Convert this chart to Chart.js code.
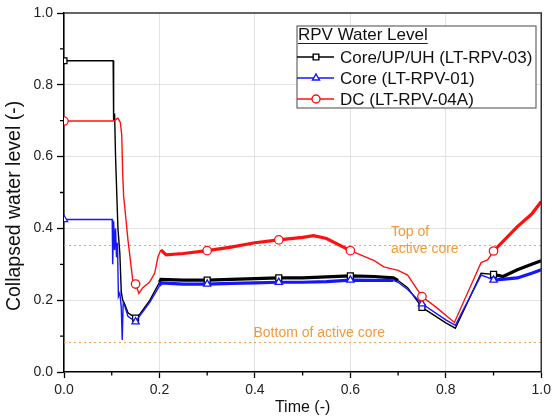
<!DOCTYPE html>
<html>
<head>
<meta charset="utf-8">
<script src="https://cdn.jsdelivr.net/npm/chart.js@4.4.1/dist/chart.umd.min.js"></script>
<style>
  html, body { margin: 0; padding: 0; background: #fff; }
</style>
</head>
<body>
<canvas id="chart" width="555" height="419"></canvas>
<script>
// Core/UP/UH (LT-RPV-03)
const coreUpX = [0, 0.103, 0.104, 0.106, 0.108, 0.113, 0.117, 0.12, 0.123, 0.127, 0.134, 0.15, 0.158, 0.18, 0.2, 0.203, 0.25, 0.3, 0.35, 0.4, 0.45, 0.5, 0.55, 0.6, 0.65, 0.69, 0.7, 0.72, 0.75, 0.8, 0.82, 0.874, 0.9, 0.92, 0.95, 0.98, 1.0];
const coreUpY = [0.867, 0.867, 0.70, 0.72, 0.60, 0.40, 0.33, 0.224, 0.20, 0.19, 0.165, 0.15, 0.16, 0.2, 0.25, 0.258, 0.256, 0.256, 0.258, 0.26, 0.262, 0.262, 0.265, 0.268, 0.266, 0.262, 0.255, 0.235, 0.18, 0.137, 0.122, 0.275, 0.272, 0.266, 0.285, 0.3, 0.31];

// Core (LT-RPV-01)
const coreX = [0, 0.101, 0.102, 0.104, 0.106, 0.108, 0.11, 0.112, 0.114, 0.117, 0.12, 0.122, 0.124, 0.127, 0.134, 0.15, 0.158, 0.18, 0.2, 0.203, 0.25, 0.3, 0.35, 0.4, 0.45, 0.5, 0.55, 0.6, 0.65, 0.69, 0.7, 0.72, 0.75, 0.8, 0.82, 0.874, 0.89, 0.9, 0.95, 0.98, 1.0];
const coreY = [0.425, 0.425, 0.30, 0.42, 0.34, 0.40, 0.32, 0.36, 0.21, 0.22, 0.18, 0.089, 0.19, 0.185, 0.155, 0.14, 0.155, 0.195, 0.24, 0.248, 0.245, 0.245, 0.247, 0.248, 0.25, 0.25, 0.252, 0.256, 0.255, 0.255, 0.25, 0.23, 0.19, 0.145, 0.13, 0.27, 0.262, 0.256, 0.262, 0.275, 0.285];

// DC (LT-RPV-04A)
const dcX = [0, 0.105, 0.11, 0.113, 0.118, 0.121, 0.123, 0.125, 0.128, 0.134, 0.144, 0.15, 0.157, 0.165, 0.179, 0.19, 0.197, 0.203, 0.214, 0.25, 0.3, 0.35, 0.4, 0.45, 0.5, 0.523, 0.55, 0.6, 0.65, 0.67, 0.7, 0.72, 0.75, 0.78, 0.818, 0.874, 0.8875, 0.9, 0.95, 0.98, 1.0];
const dcY = [0.699, 0.699, 0.705, 0.707, 0.695, 0.66, 0.55, 0.488, 0.45, 0.368, 0.256, 0.245, 0.219, 0.235, 0.25, 0.275, 0.321, 0.34, 0.326, 0.33, 0.338, 0.348, 0.36, 0.368, 0.375, 0.38, 0.372, 0.338, 0.31, 0.293, 0.283, 0.27, 0.21, 0.18, 0.138, 0.305, 0.312, 0.337, 0.405, 0.44, 0.475];

// where the measured signals are noisy (drawn as a thicker band)
const coreUpNoise = [[0.2, 0.7], [0.9, 1.0]];
const coreNoise = [[0.2, 0.69], [0.9, 1.0]];
const dcNoise = [[0.2, 0.6], [0.9, 1.0]];

const markerX = [0, 0.15, 0.3, 0.45, 0.6, 0.75, 0.9];
const tickValues = [0, 0.2, 0.4, 0.6, 0.8, 1.0];
const minorValues = [0.1, 0.3, 0.5, 0.7, 0.9];
const topOfCore = 0.355;
const bottomOfCore = 0.083;

const FONT = '"Liberation Sans", Arial, sans-serif';

const toPoints = (xs, ys) => xs.map((x, i) => ({ x: x, y: ys[i] }));
const inSpans = (spans, x) => spans.some(s => x >= s[0] && x < s[1]);

const makeSet = (label, xs, ys, color, style, noise, order) => ({
    label: label,
    data: toPoints(xs, ys),
    borderColor: color,
    backgroundColor: '#fff',
    borderWidth: 1.4,
    pointStyle: style,
    pointRadius: (ctx) => (ctx.raw && markerX.includes(ctx.raw.x) ? 4.2 : 0),
    pointBorderColor: color,
    pointBackgroundColor: '#fff',
    pointBorderWidth: 1.3,
    tension: 0,
    order: order,
    segment: {
        borderWidth: (ctx) => (inSpans(noise, ctx.p0.parsed.x) ? 3.2 : 1.4),
    },
});

const legendItems = [
    { text: 'Core/UP/UH (LT-RPV-03)', color: '#000', style: 'rect' },
    { text: 'Core (LT-RPV-01)', color: '#1515ff', style: 'triangle' },
    { text: 'DC (LT-RPV-04A)', color: '#ff1010', style: 'circle' },
];

const guides = {
    id: 'guides',
    beforeDatasetsDraw(chart) {
        const { ctx, chartArea: a, scales: { x, y } } = chart;
        ctx.save();
        ctx.strokeStyle = '#f4a24e';
        ctx.lineWidth = 1.2;
        ctx.setLineDash([2, 3]);
        [topOfCore, bottomOfCore].forEach((v) => {
            const py = Math.round(y.getPixelForValue(v)) + 0.5;
            ctx.beginPath();
            ctx.moveTo(a.left, py);
            ctx.lineTo(a.right, py);
            ctx.stroke();
        });
        ctx.setLineDash([]);
        ctx.fillStyle = '#f29a3a';
        ctx.font = '14px ' + FONT;
        ctx.textBaseline = 'middle';
        ctx.textAlign = 'left';
        ctx.fillText('Top of', x.getPixelForValue(0.685), y.getPixelForValue(0.39));
        ctx.fillText('active core', x.getPixelForValue(0.685), y.getPixelForValue(0.343));
        ctx.fillText('Bottom of active core', x.getPixelForValue(0.397), y.getPixelForValue(0.109));
        ctx.restore();
    },
};

const frame = {
    id: 'frame',
    afterDraw(chart) {
        const { ctx, chartArea: a, scales: { x, y } } = chart;
        ctx.save();
        // top and right edges of the box
        ctx.strokeStyle = '#333';
        ctx.lineWidth = 1.5;
        ctx.beginPath();
        ctx.moveTo(a.left, a.top);
        ctx.lineTo(a.right, a.top);
        ctx.lineTo(a.right, a.bottom);
        ctx.stroke();
        // minor ticks
        ctx.strokeStyle = '#000';
        ctx.lineWidth = 1.3;
        minorValues.forEach((v) => {
            const px = x.getPixelForValue(v);
            const py = y.getPixelForValue(v);
            ctx.beginPath();
            ctx.moveTo(px, a.bottom);
            ctx.lineTo(px, a.bottom + 3.5);
            ctx.moveTo(a.left, py);
            ctx.lineTo(a.left - 4, py);
            ctx.stroke();
        });

        // y axis title, sits a little below the middle as in the original
        ctx.fillStyle = '#111';
        ctx.font = '19.5px ' + FONT;
        ctx.textAlign = 'center';
        ctx.textBaseline = 'middle';
        ctx.translate(15, a.top + 193);
        ctx.rotate(-Math.PI / 2);
        ctx.fillText('Collapsed water level (-)', 0, 0);
        ctx.setTransform(1, 0, 0, 1, 0, 0);

        // legend
        const lx = a.left + 233, ly = a.top + 13, lw = 239, lh = 82;
        ctx.fillStyle = '#fff';
        ctx.fillRect(lx, ly, lw, lh);
        ctx.strokeStyle = '#666';
        ctx.lineWidth = 1.2;
        ctx.strokeRect(lx, ly, lw, lh);
        ctx.fillStyle = '#111';
        ctx.font = '17px ' + FONT;
        ctx.textBaseline = 'middle';
        ctx.textAlign = 'left';
        const title = 'RPV Water Level';
        ctx.fillText(title, lx + 1, ly + 9);
        const tw = ctx.measureText(title).width;
        ctx.strokeStyle = '#222';
        ctx.lineWidth = 1;
        ctx.beginPath();
        ctx.moveTo(lx + 1, ly + 17.5);
        ctx.lineTo(lx + 1 + tw, ly + 17.5);
        ctx.stroke();
        legendItems.forEach((item, i) => {
            const cy = ly + 31 + i * 21;
            ctx.strokeStyle = item.color;
            ctx.lineWidth = 1.4;
            ctx.beginPath();
            ctx.moveTo(lx, cy);
            ctx.lineTo(lx + 37, cy);
            ctx.stroke();
            ctx.fillStyle = '#fff';
            Chart.helpers.drawPoint(ctx, {
                pointStyle: item.style, radius: 4, rotation: 0, borderWidth: 1.2,
            }, lx + 19, cy);
            ctx.fillStyle = '#111';
            ctx.fillText(item.text, lx + 43, cy + 1);
        });
        ctx.restore();
    },
};

const tickFont = { family: FONT, size: 14 };

const config = {
    type: 'line',
    data: {
        datasets: [
            makeSet('Core/UP/UH (LT-RPV-03)', coreUpX, coreUpY, '#000', 'rect', coreUpNoise, 2),
            makeSet('Core (LT-RPV-01)', coreX, coreY, '#1515ff', 'triangle', coreNoise, 1),
            makeSet('DC (LT-RPV-04A)', dcX, dcY, '#ff1010', 'circle', dcNoise, 0),
        ],
    },
    options: {
        responsive: false,
        animation: false,
        layout: { padding: { top: 13, right: 11, left: 0, bottom: 0 } },
        plugins: { legend: { display: false }, tooltip: { enabled: false } },
        scales: {
            x: {
                type: 'linear',
                min: 0,
                max: 1,
                afterFit: (s) => { s.height = 47; },
                afterBuildTicks: (s) => { s.ticks = tickValues.map((v) => ({ value: v })); },
                ticks: {
                    font: tickFont, color: '#222', padding: 4, maxRotation: 0, autoSkip: false,
                    callback: (v) => v.toFixed(1),
                },
                grid: {
                    color: (ctx) => (ctx.index > 0 && ctx.index < 5 ? '#e3e3e3' : 'transparent'),
                    tickColor: '#000', tickLength: 6, tickWidth: 1.3, lineWidth: 1,
                },
                border: { color: '#000', width: 1.6 },
                title: {
                    display: true, text: 'Time (-)', color: '#111',
                    font: { family: FONT, size: 16 }, padding: { top: 0, bottom: 2 },
                },
            },
            y: {
                type: 'linear',
                min: 0,
                max: 1,
                afterFit: (s) => { s.width = 64; },
                afterBuildTicks: (s) => { s.ticks = tickValues.map((v) => ({ value: v })); },
                ticks: {
                    font: tickFont, color: '#222', padding: 4, autoSkip: false,
                    callback: (v) => v.toFixed(1),
                },
                grid: {
                    color: (ctx) => (ctx.index > 0 && ctx.index < 5 ? '#e3e3e3' : 'transparent'),
                    tickColor: '#000', tickLength: 7, tickWidth: 1.3, lineWidth: 1,
                },
                border: { color: '#000', width: 1.6 },
                title: { display: false },
            },
        },
    },
    plugins: [guides, frame],
};

const myChart = new Chart(document.getElementById('chart'), config);
</script>
</body>
</html>
